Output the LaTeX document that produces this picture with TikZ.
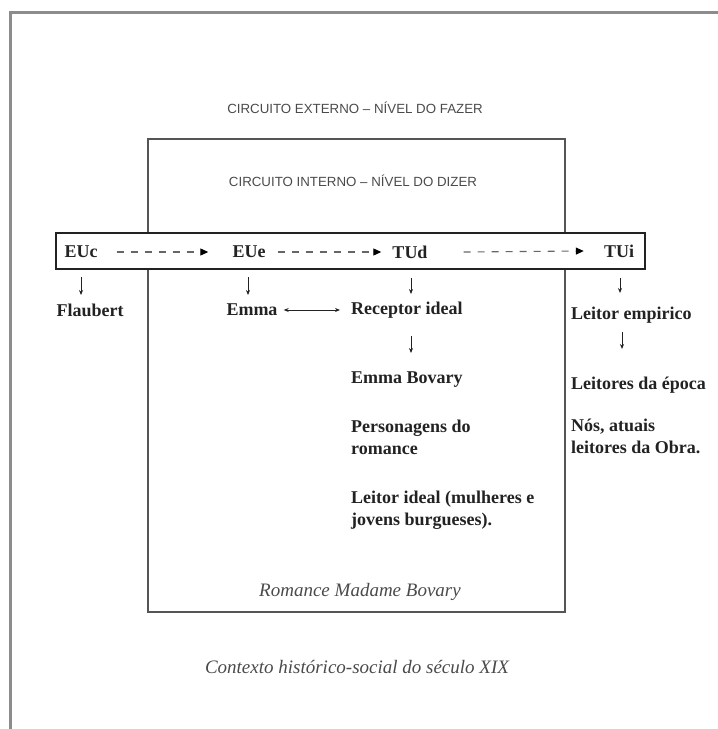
\documentclass[tikz,border=0pt]{standalone}
\usepackage{fontspec}
\setmainfont{Liberation Serif}
\setsansfont{Liberation Sans}
\usetikzlibrary{arrows.meta}
\definecolor{framegray}{HTML}{8C8C8C}
\definecolor{boxgray}{HTML}{555555}
\definecolor{labgray}{HTML}{4A4A4A}
\definecolor{txt}{HTML}{222222}
\definecolor{dashgray}{HTML}{666666}
\tikzset{
  lbl/.style={inner sep=0pt, font=\bfseries\fontsize{18}{22}\selectfont, text=txt},
  lblL/.style={lbl, anchor=west},
  multi/.style={lblL, align=left},
  circ/.style={inner sep=0pt, font=\sffamily\fontsize{13.3}{15}\selectfont, text=labgray},
  ital/.style={inner sep=0pt, font=\itshape\fontsize{19}{22}\selectfont, text=labgray},
  dasharr/.style={draw=dashgray, line width=1.1pt, dash pattern=on 7pt off 7pt, -{Triangle[length=8pt,width=7pt,color=black,fill=black]}},
  downarr/.style={draw=txt, line width=0.8pt, -{Stealth[length=5pt,width=4pt]}},
  dblarr/.style={draw=txt, line width=0.8pt, {Stealth[length=5pt,width=4pt]}-{Stealth[length=5pt,width=4pt]}},
}
\begin{document}
\begin{tikzpicture}[x=1pt,y=-1pt]
\useasboundingbox (0,0) rectangle (718,729);
% outer frame (cropped)
\draw[framegray, line width=3pt] (10,729) -- (10,12) -- (718,12);
% inner box
\draw[boxgray, line width=2pt] (148,139) rectangle (565,612);
% band
\draw[txt, fill=white, line width=1.8pt] (56,233) rectangle (645,269);

\node[circ] (ext) at (355,108) {CIRCUITO EXTERNO – NÍVEL DO FAZER};
\node[circ] (int) at (353,181) {CIRCUITO INTERNO – NÍVEL DO DIZER};

\node[lbl] (euc) at (81,252) {EUc};
\node[lbl] (eue) at (249,252) {EUe};
\node[lbl] (tud) at (410,252) {TUd};
\node[lbl] (tui) at (619,251) {TUi};

\draw[dasharr] ([xshift=19pt]euc.east) -- ([xshift=-24pt]eue.west);
\draw[dasharr] ([xshift=12pt]eue.east) -- ([xshift=-11pt]tud.west);
\draw[dasharr] ([xshift=36pt]tud.east) -- ([xshift=-20pt]tui.west);

\node[lbl] (flaubert) at (90,310) {Flaubert};
\node[lbl] (emma) at (252,310) {Emma};
\node[lblL] (receptor) at (351,310) {Receptor ideal};
\node[lblL] (empirico) at (571,315) {Leitor empirico};

\draw[downarr] (81,277) -- (81,295);
\draw[downarr] (248,277) -- (248,295);
\draw[downarr] (411,278) -- (411,294);
\draw[downarr] (620,278) -- (620,293);
\draw[dblarr] ([xshift=6pt]emma.east) -- ([xshift=-11pt]receptor.west);

\draw[downarr] (411,336) -- (411,353);
\draw[downarr] (622,332) -- (622,349);

\node[lblL] (bovary) at (351,380) {Emma Bovary};
\node[multi] (person) at (351,437) {Personagens do\\romance};
\node[multi] (ideal) at (351,510) {Leitor ideal (mulheres e\\jovens burgueses).};
\node[lblL] (epoca) at (571,385) {Leitores da época};
\node[multi] (nos) at (571,436) {Nós, atuais\\leitores da Obra.};

\node[ital] (romance) at (360,592) {Romance Madame Bovary};
\node[ital] (contexto) at (357,667) {Contexto histórico-social do século XIX};
\end{tikzpicture}
\end{document}
